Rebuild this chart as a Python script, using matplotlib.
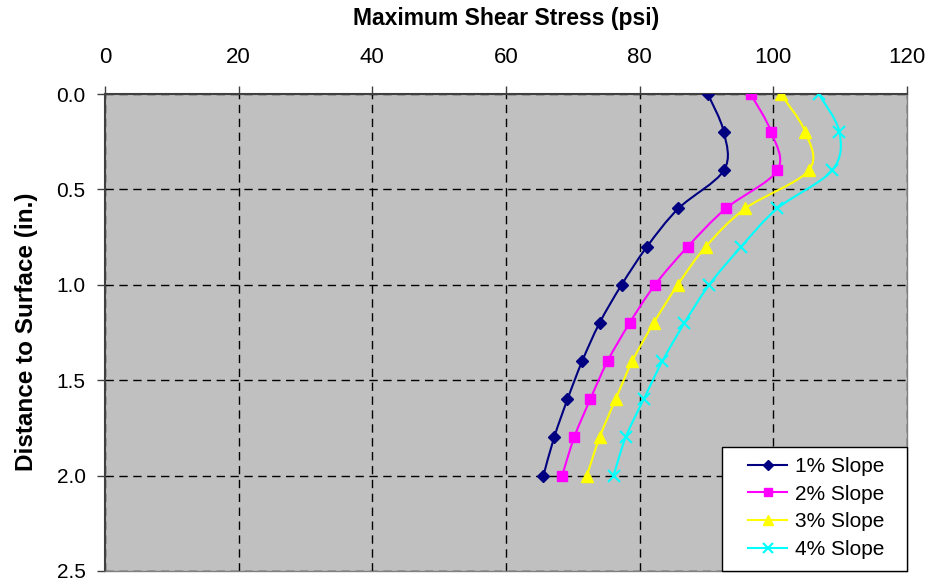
import matplotlib
matplotlib.use("Agg")
import matplotlib.pyplot as plt
from matplotlib.path import Path
from matplotlib.patches import PathPatch, Rectangle
from matplotlib.lines import Line2D
import numpy as np

plt.rcParams['font.family'] = ['Liberation Sans', 'DejaVu Sans']

depth = [0.0, 0.2, 0.4, 0.6, 0.8, 1.0, 1.2, 1.4, 1.6, 1.8, 2.0]
slope1 = [90.2, 92.6, 92.6, 85.8, 81.1, 77.3, 74.0, 71.4, 69.2, 67.2, 65.6]
slope2 = [96.6, 99.7, 100.6, 92.9, 87.2, 82.3, 78.5, 75.2, 72.6, 70.2, 68.4]
slope3 = [101.1, 104.8, 105.3, 95.8, 89.9, 85.7, 82.1, 78.9, 76.4, 74.0, 72.1]
slope4 = [106.8, 109.9, 108.8, 100.6, 95.2, 90.4, 86.7, 83.4, 80.6, 77.9, 76.1]
labels = ['1% Slope', '2% Slope', '3% Slope', '4% Slope']
colors = ['#000080', '#FF00FF', '#FFFF00', '#00FFFF']
markers = ['D', 's', '^', 'x']
msizes = [6, 7, 8, 8]

W, H = 946, 581
fig = plt.figure(figsize=(W / 100, H / 100), dpi=100)
ax = fig.add_axes([105/W, 1-571/H, (907-105)/W, (571-94)/H])
ax.set_facecolor('#C0C0C0')


def smooth_path(xs, ys):
    pts = np.column_stack([xs, ys])
    n = len(pts)
    verts = [pts[0]]
    codes = [Path.MOVETO]
    for i in range(n - 1):
        p0 = pts[i - 1] if i > 0 else pts[i]
        p1 = pts[i]
        p2 = pts[i + 1]
        p3 = pts[i + 2] if i + 2 < n else pts[i + 1]
        c1 = p1 + (p2 - p0) / 6.0
        c2 = p2 - (p3 - p1) / 6.0
        verts += [c1, c2, p2]
        codes += [Path.CURVE4] * 3
    return Path(verts, codes)


series = [slope1, slope2, slope3, slope4]
handles = []
for s, lab, c, m, ms in zip(series, labels, colors, markers, msizes):
    patch = PathPatch(smooth_path(s, depth), facecolor='none', edgecolor=c, lw=1.5, zorder=3)
    ax.add_patch(patch)
    ax.plot(s, depth, linestyle='none', marker=m, color=c, markersize=ms,
            markeredgewidth=1.5 if m == 'x' else 1.0, zorder=4)
    handles.append(Line2D([0], [0], color=c, lw=1.5, marker=m, markersize=ms - 1,
                          markeredgewidth=1.5 if m == 'x' else 1.0))

ax.set_xlim(0, 120)
ax.set_ylim(2.5, 0.0)
ax.set_xticks(np.arange(0, 121, 20))
ax.set_yticks(np.arange(0, 2.51, 0.5))
ax.set_yticklabels([f'{v:.1f}' for v in np.arange(0, 2.51, 0.5)])
ax.xaxis.tick_top()
ax.tick_params(axis='both', length=5.5, width=1, color='#404040')
ax.tick_params(axis='x', pad=13, labelsize=16)
ax.tick_params(axis='y', pad=8.5, labelsize=15)
ax.grid(True, color='black', linestyle=(0, (6, 4)), linewidth=1.0, zorder=1)
ax.set_axisbelow(True)

for side in ['left', 'top']:
    ax.spines[side].set_color('#404040')
    ax.spines[side].set_linewidth(1.5)
for side in ['right', 'bottom']:
    ax.spines[side].set_color('#808080')
    ax.spines[side].set_linewidth(1.0)

fig.text(506/W, 1 - 19/H, 'Maximum Shear Stress (psi)', ha='center', va='center',
         fontsize=16.5, fontweight='bold')
fig.text(27/W, 1 - 332/H, 'Distance to Surface (in.)', ha='center', va='center',
         rotation=90, fontsize=17.5, fontweight='bold')

# legend box
fig.patches.append(Rectangle((722/W, 1-571/H), (907-722)/W, (571-447)/H,
                             transform=fig.transFigure, facecolor='white',
                             edgecolor='black', linewidth=1.0, zorder=5))
leg = fig.legend(handles, labels, loc='center', bbox_to_anchor=(816/W, 1-508/H),
                 fontsize=15, frameon=False, handlelength=1.9, borderpad=0.0,
                 labelspacing=0.42, handletextpad=0.35)
leg.set_zorder(6)

fig.savefig('out.png', dpi=100)
